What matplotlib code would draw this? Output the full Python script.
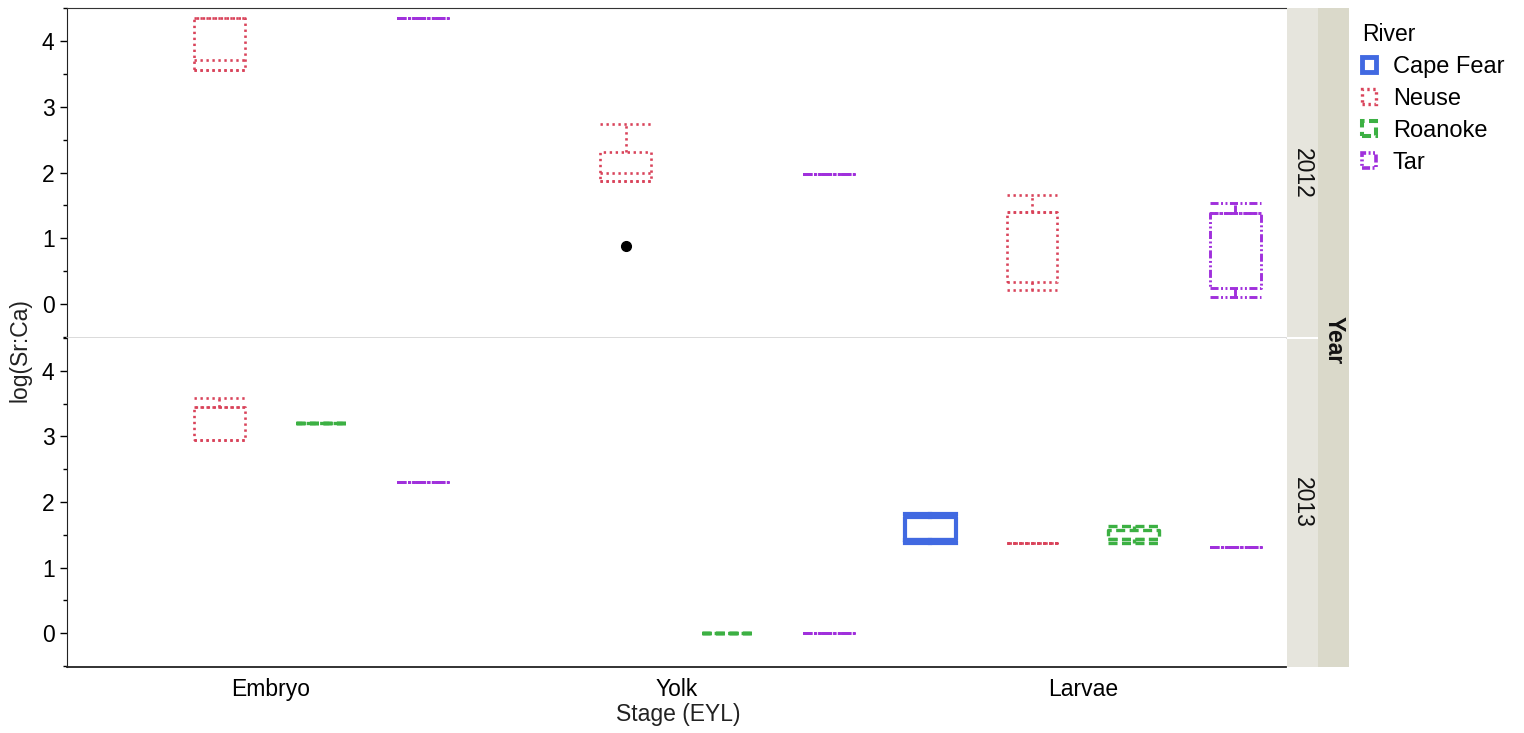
import matplotlib
matplotlib.use("Agg")
import matplotlib.pyplot as plt
from matplotlib.patches import Patch, Rectangle
import numpy as np

plt.rcParams["font.family"] = ["Liberation Sans", "DejaVu Sans"]
plt.rcParams["lines.scale_dashes"] = False

stages = ["Embryo", "Yolk", "Larvae"]
rivers = ["Cape Fear", "Neuse", "Roanoke", "Tar"]
years = ["2012", "2013"]

# One row per box: year, stage, river and its five-number summary
box_year = ["2012", "2012", "2012", "2012", "2012", "2012",
            "2013", "2013", "2013", "2013", "2013", "2013", "2013", "2013", "2013"]
box_stage = ["Embryo", "Embryo", "Yolk", "Yolk", "Larvae", "Larvae",
             "Embryo", "Embryo", "Embryo", "Yolk", "Yolk",
             "Larvae", "Larvae", "Larvae", "Larvae"]
box_river = ["Neuse", "Tar", "Neuse", "Tar", "Neuse", "Tar",
             "Neuse", "Roanoke", "Tar", "Roanoke", "Tar",
             "Cape Fear", "Neuse", "Roanoke", "Tar"]
whisk_lo = [3.56, 4.35, 1.87, 1.97, 0.21, 0.11,
            2.94, 3.21, 2.31, 0.00, 0.00, 1.37, 1.38, 1.37, 1.32]
q1 = [3.56, 4.35, 1.87, 1.97, 0.33, 0.24,
      2.94, 3.21, 2.31, 0.00, 0.00, 1.42, 1.38, 1.44, 1.32]
median = [3.71, 4.35, 2.00, 1.97, 1.40, 1.38,
          3.45, 3.21, 2.31, 0.00, 0.00, 1.42, 1.38, 1.44, 1.32]
q3 = [4.35, 4.35, 2.31, 1.97, 1.40, 1.38,
      3.45, 3.21, 2.31, 0.00, 0.00, 1.77, 1.38, 1.58, 1.32]
whisk_hi = [4.35, 4.35, 2.74, 1.97, 1.66, 1.54,
            3.59, 3.21, 2.31, 0.00, 0.00, 1.81, 1.38, 1.64, 1.32]

# Points beyond the whiskers
out_year = ["2012"]
out_stage = ["Yolk"]
out_river = ["Neuse"]
out_value = [0.88]

river_style = {
    "Cape Fear": dict(color="#4169E1", ls="-", lw=3.0),
    "Neuse": dict(color="#D9435A", ls=(0, (1.7, 2.6)), lw=1.9),
    "Roanoke": dict(color="#3CB043", ls=(0, (6.5, 3.2)), lw=2.4),
    "Tar": dict(color="#A030DC", ls=(0, (5.8, 1.8, 1.4, 1.8, 1.4, 1.8)), lw=2.1),
}

W, H = 1524, 733
fig = plt.figure(figsize=(W / 100, H / 100), dpi=100)


def fx(px):
    return px / W


def fy(py):
    return 1 - py / H


x_left, x_right = 67, 1286
panel_rows = {"2012": (8, 338), "2013": (338, 667)}
box_w = 0.125
dodge = 0.25
FS = 16.5

axes = {}
for yr in years:
    top, bot = panel_rows[yr]
    ax = fig.add_axes([fx(x_left), fy(bot), fx(x_right - x_left), (bot - top) / H])
    axes[yr] = ax
    ax.set_xlim(-0.5, 2.5)
    ax.set_ylim(-0.515, 4.5)
    ax.set_yticks([0, 1, 2, 3, 4])
    ax.set_yticks(np.arange(-0.5, 4.51, 0.5), minor=True)
    ax.tick_params(axis="y", which="major", length=5, width=1, labelsize=FS, pad=4)
    ax.tick_params(axis="y", which="minor", length=3, width=1)
    ax.set_xticks(range(len(stages)))
    if yr == years[-1]:
        ax.set_xticklabels(stages, fontsize=FS)
        ax.tick_params(axis="x", length=0, pad=8)
    else:
        ax.tick_params(axis="x", length=0, labelbottom=False)
    ax.spines["right"].set_visible(False)
    ax.spines["left"].set_color("#222222")
    if yr == "2012":
        ax.spines["top"].set_color("#333333")
        ax.spines["bottom"].set_color("#D4D4D4")
        ax.spines["bottom"].set_linewidth(1.2)
    else:
        ax.spines["top"].set_visible(False)
        ax.spines["bottom"].set_color("#222222")
        ax.spines["bottom"].set_linewidth(1.3)

# Boxes
for i in range(len(box_year)):
    ax = axes[box_year[i]]
    st = river_style[box_river[i]]
    pos = stages.index(box_stage[i]) + (rivers.index(box_river[i]) - 1.5) * dodge
    stats = dict(whislo=whisk_lo[i], q1=q1[i], med=median[i],
                 q3=q3[i], whishi=whisk_hi[i], fliers=[])
    props = dict(color=st["color"], linestyle=st["ls"], linewidth=st["lw"])
    ax.bxp([stats], positions=[pos], widths=box_w, capwidths=box_w,
           showfliers=False, manage_ticks=False,
           boxprops=props, whiskerprops=props, capprops=props, medianprops=props)

for yr, sg, rv, v in zip(out_year, out_stage, out_river, out_value):
    pos = stages.index(sg) + (rivers.index(rv) - 1.5) * dodge
    axes[yr].plot([pos], [v], "o", color="black", markersize=7, zorder=5)

# Facet strips
strip1_col = "#E6E5DD"
strip2_col = "#DAD9CA"
for yr in years:
    top, bot = panel_rows[yr]
    t = top + (1 if yr != years[0] else 0)
    b = bot - (1 if yr != years[-1] else 0)
    fig.add_artist(Rectangle((fx(1287), fy(b)), fx(1318 - 1287), (b - t) / H,
                             transform=fig.transFigure, facecolor=strip1_col,
                             edgecolor="none"))
    fig.text(fx(1302), fy((top + bot) / 2), yr, rotation=-90, ha="center",
             va="center", fontsize=FS, color="#111111")
fig.add_artist(Rectangle((fx(1318), fy(667)), fx(1349 - 1318), (667 - 8) / H,
                         transform=fig.transFigure, facecolor=strip2_col,
                         edgecolor="none"))
fig.text(fx(1334), fy(340), "Year", rotation=-90, ha="center", va="center",
         fontsize=FS, fontweight="bold", color="#111111")

# Axis titles
fig.text(fx(20), fy(350), "log(Sr:Ca)", rotation=90, ha="center", va="center",
         fontsize=FS, color="#222222")
fig.text(fx(678), fy(715), "Stage (EYL)", ha="center", va="center",
         fontsize=FS, color="#222222")

# Legend
handles = [Patch(facecolor="none", edgecolor=river_style[r]["color"],
                 linestyle=river_style[r]["ls"], linewidth=river_style[r]["lw"] + 0.5)
           for r in rivers]
leg = fig.legend(handles, rivers, title="River", loc="upper left",
                 bbox_to_anchor=(fx(1362), fy(23)), frameon=False,
                 fontsize=FS + 0.5, title_fontsize=FS, handlelength=0.6,
                 handleheight=0.6, handletextpad=0.7, labelspacing=0.42,
                 borderaxespad=0, borderpad=0)
leg._legend_box.align = "left"

fig.savefig("out.png", dpi=100)
